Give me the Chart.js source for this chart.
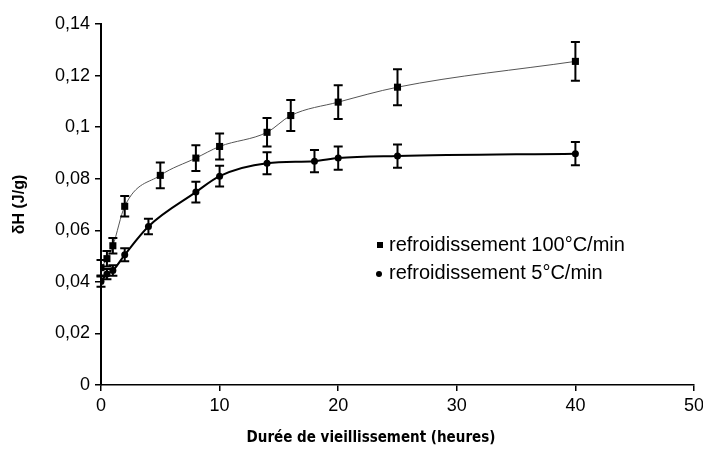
<!DOCTYPE html>
<html>
<head>
<meta charset="utf-8">
<script src="https://cdn.jsdelivr.net/npm/chart.js@4"></script>
<style>
  html, body { margin: 0; padding: 0; background: #fff; }
  #wrap { width: 703px; height: 451px; }
</style>
</head>
<body>
<div id="wrap"><canvas id="myChartCanvas" width="703" height="451"></canvas></div>
<script>
// ageing time (hours) and enthalpy recovery (J/g), with error bars
var hours_fast = [0, 0.5, 1, 2, 5, 8, 10, 14, 16, 20, 25, 40];
var dh_fast = [0.0455, 0.049, 0.054, 0.0693, 0.0813, 0.088, 0.0925, 0.098, 0.1045, 0.1097, 0.1155, 0.1255];
var err_fast = [0.003, 0.003, 0.003, 0.004, 0.005, 0.005, 0.005, 0.0055, 0.006, 0.0065, 0.007, 0.0075];

var hours_slow = [0, 0.5, 1, 2, 4, 8, 10, 14, 18, 20, 25, 40];
var dh_slow = [0.0401, 0.043, 0.0444, 0.0505, 0.0615, 0.0748, 0.081, 0.086, 0.0868, 0.088, 0.0888, 0.0897];
var err_slow = [0.002, 0.002, 0.002, 0.0025, 0.003, 0.004, 0.004, 0.0043, 0.0043, 0.0045, 0.0045, 0.0045];

var series_labels = ['refroidissement 100°C/min', 'refroidissement 5°C/min'];
var x_title = 'Durée de vieillissement (heures)';
var y_title = 'δH (J/g)';

function to_points(xs, ys) {
    let pts = []
    for (let i = 0; i < xs.length; i++)
        pts.push({ x: xs[i], y: ys[i] });
    return pts
}

var SANS = '"Liberation Sans", Arial, sans-serif';

// vertical error bars with caps
var errorBars = {
    id: 'errorBars',
    afterDatasetsDraw: function (chart) {
        let ctx = chart.ctx;
        let ys = chart.scales.y;
        ctx.save();
        ctx.strokeStyle = '#000';
        ctx.lineWidth = 2;
        chart.data.datasets.forEach(function (ds, di) {
            let meta = chart.getDatasetMeta(di);
            meta.data.forEach(function (pt, i) {
                let v = ds.data[i].y, e = ds.errors[i];
                let top = ys.getPixelForValue(v + e);
                let bot = ys.getPixelForValue(v - e);
                ctx.beginPath();
                ctx.moveTo(pt.x, top); ctx.lineTo(pt.x, bot);
                ctx.moveTo(pt.x - 4.5, top); ctx.lineTo(pt.x + 4.5, top);
                ctx.moveTo(pt.x - 4.5, bot); ctx.lineTo(pt.x + 4.5, bot);
                ctx.stroke();
            });
        });
        ctx.restore();
    }
};

// legend inside the plot and the x axis title
var annotations = {
    id: 'annotations',
    afterDraw: function (chart) {
        let ctx = chart.ctx;
        ctx.save();
        ctx.fillStyle = '#000';
        ctx.font = '20px ' + SANS;
        ctx.textBaseline = 'middle';
        ctx.textAlign = 'left';
        let rows = [245, 273];
        chart.data.datasets.forEach(function (ds, di) {
            let y = rows[di];
            if (ds.pointStyle == 'rect')
                ctx.fillRect(377, y - 3, 6, 6);
            else {
                ctx.beginPath();
                ctx.arc(379, y + 1, 3, 0, Math.PI * 2);
                ctx.fill();
            }
            ctx.fillText(ds.label, 389, y);
        });
        ctx.font = 'bold 15px "Liberation Sans Narrow", "DejaVu Sans Condensed", ' + SANS;
        ctx.textAlign = 'center';
        ctx.fillText(x_title, 371, 438);
        ctx.restore();
    }
};

var chart = new Chart(document.getElementById('myChartCanvas'), {
    type: 'line',
    data: {
        datasets: [{
            label: series_labels[0],
            data: to_points(hours_fast, dh_fast),
            errors: err_fast,
            borderColor: '#555',
            borderWidth: 1,
            pointStyle: 'rect',
            pointRadius: 5,
            pointBackgroundColor: '#000',
            pointBorderWidth: 0,
            cubicInterpolationMode: 'monotone'
        }, {
            label: series_labels[1],
            data: to_points(hours_slow, dh_slow),
            errors: err_slow,
            borderColor: '#000',
            borderWidth: 2,
            pointStyle: 'circle',
            pointRadius: 3.5,
            pointBackgroundColor: '#000',
            pointBorderWidth: 0,
            cubicInterpolationMode: 'monotone'
        }]
    },
    options: {
        responsive: false,
        animation: false,
        layout: { padding: { left: 0, right: 0, top: 24, bottom: 0 } },
        plugins: {
            legend: { display: false },
            tooltip: { enabled: false }
        },
        scales: {
            x: {
                type: 'linear',
                min: 0,
                max: 50,
                afterFit: function (s) { s.height = 66; s.paddingRight = 9; },
                ticks: { stepSize: 10, color: '#000', padding: 4, font: { size: 18, family: SANS } },
                grid: { drawOnChartArea: false, tickLength: 6, color: '#000', lineWidth: 1.5 },
                border: { color: '#000', width: 1.5 }
            },
            y: {
                min: 0,
                max: 0.14,
                afterFit: function (s) { s.width = 101; },
                ticks: {
                    stepSize: 0.02,
                    color: '#000',
                    padding: 5,
                    font: { size: 18, family: SANS },
                    callback: function (value) {
                        return String(+value.toFixed(2)).replace('.', ',');
                    }
                },
                grid: { drawOnChartArea: false, tickLength: 6, color: '#000', lineWidth: 1.5 },
                border: { color: '#000', width: 2 },
                title: {
                    display: true,
                    text: y_title,
                    color: '#000',
                    padding: { top: 10, bottom: 4 },
                    font: { size: 16, weight: 'bold', family: SANS }
                }
            }
        }
    },
    plugins: [errorBars, annotations]
});
</script>
</body>
</html>
